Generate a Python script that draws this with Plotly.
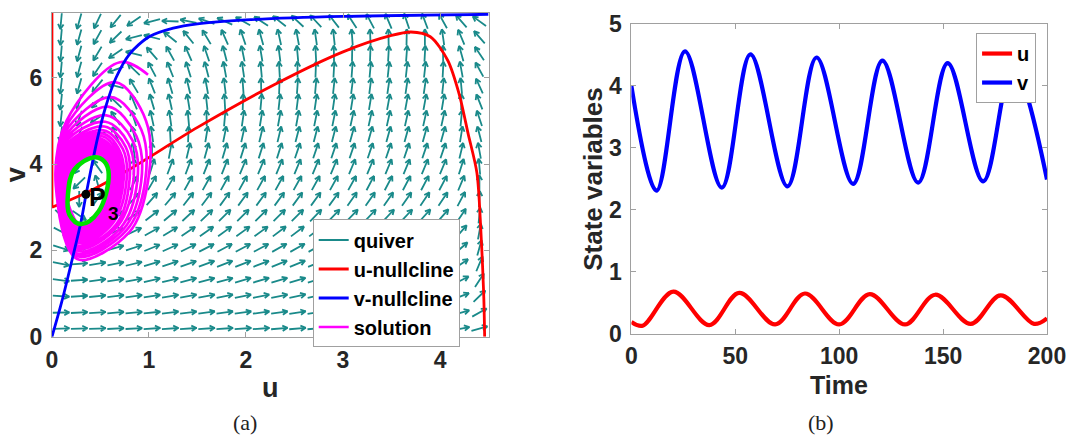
import numpy as np
import plotly.graph_objects as go

# picture geometry: the capture maps figure pixels p to picture pixels t = S*p + O
SX, OX = 0.978, 6.0
SY, OY = 0.94, 12.0
FW, FH = 1090, 450
FONT = "Liberation Sans, Arial, sans-serif"

def fx(t):
    return (t - OX) / SX

def fy(t):
    return (t - OY) / SY

def PX(t):
    return min(1.0, max(0.0, fx(t) / FW))

def PY(t):
    return min(1.0, max(0.0, 1 - fy(t) / FH))

# ---------------- Panel (a): phase plane ----------------
u_null_vert_u = [0.0, 0.0]
u_null_vert_v = [7.5, 3.0]
u_null_u = [0.0, 0.35, 0.77, 1.5, 2.3, 3.0, 3.5, 3.7, 3.9, 4.08, 4.2, 4.29, 4.38, 4.42, 4.45, 4.46]
u_null_v = [3.0, 3.33, 3.84, 4.85, 5.85, 6.6, 6.98, 7.06, 6.95, 6.4, 5.6, 4.7, 3.8, 2.5, 1.0, 0.0]

v_null_u = [0.0, 0.1, 0.22, 0.30, 0.35, 0.40, 0.47, 0.55, 0.66, 0.80, 1.0, 1.25, 1.5, 2.0, 3.0, 4.5]
v_null_v = [0.0, 0.8, 1.9, 2.67, 3.28, 3.85, 4.6, 5.3, 6.0, 6.55, 6.95, 7.15, 7.25, 7.34, 7.42, 7.47]

p3_u = [0.35]
p3_v = [3.3]

sol_start_u = [0.99]
sol_start_v = [6.07]
loop_top_u = [0.70, 0.65, 0.61, 0.58, 0.56, 0.55, 0.54, 0.53, 0.52, 0.51, 0.50, 0.49, 0.48, 0.47, 0.47, 0.46, 0.45, 0.45]
loop_top_v = [6.36, 5.90, 5.55, 5.33, 5.13, 4.98, 4.87, 4.78, 4.71, 4.65, 4.59, 4.54, 4.49, 4.45, 4.41, 4.36, 4.30, 4.24]
loop_ul_u = [0.15, 0.14, 0.13, 0.13, 0.13, 0.13, 0.14, 0.14, 0.15, 0.15, 0.16, 0.17, 0.18, 0.19, 0.20, 0.21, 0.22, 0.22]
loop_ul_v = [5.00, 4.85, 4.72, 4.62, 4.55, 4.48, 4.42, 4.37, 4.32, 4.28, 4.24, 4.20, 4.16, 4.12, 4.08, 4.02, 3.96, 3.92]
loop_l_u = [0.04, 0.04, 0.04, 0.045, 0.05, 0.05, 0.06, 0.065, 0.07, 0.08, 0.085, 0.09, 0.10, 0.11, 0.12, 0.13, 0.14, 0.15]
loop_l_v = [3.60, 3.55, 3.50, 3.47, 3.45, 3.42, 3.40, 3.38, 3.37, 3.36, 3.35, 3.34, 3.33, 3.32, 3.32, 3.31, 3.31, 3.30]
loop_b_u = [0.26, 0.26, 0.26, 0.27, 0.27, 0.27, 0.28, 0.28, 0.28, 0.28, 0.29, 0.29, 0.29, 0.29, 0.29, 0.30, 0.30, 0.30]
loop_b_v = [1.80, 1.87, 1.93, 1.99, 2.05, 2.11, 2.17, 2.22, 2.27, 2.31, 2.35, 2.39, 2.42, 2.45, 2.48, 2.51, 2.54, 2.57]
loop_lr_u = [0.80, 0.77, 0.74, 0.71, 0.68, 0.66, 0.63, 0.61, 0.59, 0.57, 0.56, 0.54, 0.53, 0.52, 0.51, 0.50, 0.49, 0.485]
loop_lr_v = [2.43, 2.47, 2.50, 2.53, 2.57, 2.60, 2.64, 2.67, 2.70, 2.73, 2.75, 2.77, 2.79, 2.81, 2.83, 2.85, 2.87, 2.88]
loop_r_u = [0.99, 0.96, 0.92, 0.88, 0.84, 0.80, 0.77, 0.74, 0.72, 0.70, 0.68, 0.66, 0.65, 0.63, 0.62, 0.61, 0.60, 0.59]
loop_r_v = [3.60, 3.60, 3.60, 3.62, 3.63, 3.64, 3.65, 3.66, 3.67, 3.68, 3.69, 3.70, 3.71, 3.72, 3.73, 3.74, 3.75, 3.76]
loop_ur_u = [0.97, 0.92, 0.87, 0.83, 0.79, 0.76, 0.73, 0.70, 0.68, 0.66, 0.64, 0.62, 0.61, 0.60, 0.58, 0.57, 0.56, 0.55]
loop_ur_v = [5.00, 4.80, 4.65, 4.55, 4.47, 4.40, 4.35, 4.30, 4.26, 4.22, 4.19, 4.16, 4.13, 4.11, 4.10, 4.09, 4.08, 4.07]

cycle_u = [0.44, 0.23, 0.165, 0.18, 0.30, 0.48, 0.585, 0.54, 0.44]
cycle_v = [4.16, 3.87, 3.30, 2.83, 2.61, 2.90, 3.77, 4.06, 4.16]

quiver_u = [0.094, 0.281, 0.469, 0.656, 0.844, 1.031, 1.219, 1.406, 1.594, 1.781, 1.969, 2.156,
            2.344, 2.531, 2.719, 2.906, 3.094, 3.281, 3.469, 3.656, 3.844, 4.031, 4.219, 4.406]
quiver_v = [0.19, 0.56, 0.94, 1.31, 1.69, 2.06, 2.44, 2.81, 3.19, 3.56, 3.94, 4.31,
            4.69, 5.06, 5.44, 5.81, 6.19, 6.56, 6.94, 7.31]
quiver_angle = [
    [2, 2, 2, 3, 3, 4, 4, 4, 4, 4, 4, 4, 5, 5, 5, 6, 6, 7, 7, 8, 8, 9, 11, 16],
    [1, 3, 4, 5, 5, 6, 7, 7, 8, 8, 8, 8, 8, 9, 9, 10, 10, 11, 11, 12, 12, 13, 16, 30],
    [-4, 4, 6, 7, 8, 9, 10, 11, 11, 12, 12, 12, 12, 13, 13, 14, 14, 15, 15, 16, 17, 18, 22, 45],
    [-8, 4, 8, 9, 11, 13, 14, 15, 16, 16, 17, 17, 17, 17, 18, 18, 19, 19, 20, 20, 21, 23, 28, 58],
    [-12, 4, 10, 12, 14, 17, 19, 20, 21, 22, 22, 22, 23, 23, 23, 24, 24, 25, 25, 26, 27, 29, 35, 68],
    [-18, 3, 13, 16, 19, 23, 25, 27, 28, 29, 29, 29, 30, 30, 30, 31, 31, 32, 32, 33, 33, 35, 42, 75],
    [-28, -5, 17, 22, 26, 30, 32, 35, 36, 37, 37, 37, 38, 38, 38, 39, 39, 40, 40, 40, 41, 42, 50, 80],
    [-45, -35, 22, 31, 35, 39, 41, 44, 45, 46, 46, 46, 46, 46, 47, 47, 47, 48, 48, 48, 49, 50, 57, 84],
    [-85, -90, 55, 45, 47, 50, 51, 53, 54, 55, 55, 55, 55, 55, 55, 55, 56, 56, 56, 56, 57, 57, 63, 87],
    [262, 225, 105, 72, 62, 61, 61, 62, 62, 62, 62, 62, 62, 62, 62, 62, 62, 63, 63, 63, 63, 63, 68, 90],
    [262, 235, 125, 98, 88, 73, 70, 70, 69, 69, 68, 68, 68, 68, 68, 68, 68, 68, 68, 68, 68, 68, 73, 95],
    [263, 245, 150, 106, 98, 90, 80, 77, 75, 74, 73, 73, 73, 72, 72, 72, 72, 72, 72, 72, 72, 72, 77, 100],
    [263, 250, 195, 112, 103, 98, 93, 88, 81, 79, 78, 77, 77, 76, 76, 76, 75, 75, 75, 75, 75, 75, 81, 104],
    [264, 252, 215, 122, 107, 102, 98, 95, 91, 85, 82, 81, 80, 80, 79, 79, 78, 78, 78, 78, 78, 78, 85, 108],
    [264, 254, 225, 135, 112, 106, 102, 99, 96, 93, 88, 85, 84, 83, 82, 82, 81, 81, 80, 80, 80, 81, 89, 111],
    [264, 255, 232, 165, 120, 111, 106, 103, 100, 97, 94, 91, 88, 86, 85, 84, 83, 83, 82, 82, 82, 84, 95, 114],
    [265, 255, 237, 200, 135, 117, 111, 107, 104, 100, 98, 95, 93, 90, 88, 87, 86, 85, 84, 84, 84, 87, 100, 118],
    [265, 255, 240, 215, 165, 130, 118, 113, 108, 104, 101, 99, 97, 95, 93, 91, 89, 88, 87, 86, 87, 91, 105, 123],
    [265, 255, 242, 225, 195, 165, 140, 128, 120, 113, 108, 105, 102, 100, 98, 96, 94, 92, 91, 89, 90, 98, 112, 130],
    [265, 255, 245, 232, 215, 195, 178, 168, 160, 155, 150, 146, 141, 136, 132, 127, 122, 117, 112, 108, 110, 118, 130, 143],
]

# ---------------- Panel (b): time series (extrema) ----------------
u_time = [0, 5.4, 20.2, 37.5, 51.9, 69.2, 83.5, 100.0, 114.7, 131.7, 146.2, 163.3, 177.7, 193.8, 200]
u_vals = [0.19, 0.13, 0.68, 0.14, 0.66, 0.15, 0.65, 0.15, 0.64, 0.15, 0.63, 0.16, 0.62, 0.16, 0.25]
v_time = [0, 12.1, 25.8, 43.5, 57.3, 75.1, 89.1, 106.7, 120.8, 138.0, 152.2, 169.3, 183.5, 200]
v_vals = [4.0, 2.31, 4.56, 2.36, 4.51, 2.38, 4.46, 2.42, 4.41, 2.44, 4.37, 2.46, 4.33, 2.49]

# ---------------- layout geometry (reference picture pixels) ----------------
A_L, A_R, A_T, A_B = 52, 489, 12, 335
B_L, B_R, B_T, B_B = 632, 1048, 23, 332
A_XR, A_YR = [0, 4.5], [0, 7.5]
B_XR, B_YR = [0, 200], [0, 5]
pxu = (fx(A_R) - fx(A_L)) / (A_XR[1] - A_XR[0])
pxv = (fy(A_B) - fy(A_T)) / (A_YR[1] - A_YR[0])

fig = go.Figure()

L, HL, HA = 17.0, 6.0, np.deg2rad(28)
qx, qy = [], []
for j, vv in enumerate(quiver_v):
    for i, uu in enumerate(quiver_u):
        a = np.deg2rad(quiver_angle[j][i])
        dx, dy = np.cos(a), np.sin(a)
        x0, y0 = uu - 0.5 * L * dx / pxu, vv - 0.5 * L * dy / pxv
        x1, y1 = uu + 0.5 * L * dx / pxu, vv + 0.5 * L * dy / pxv
        b1, b2 = a + np.pi + HA, a + np.pi - HA
        qx += [x0, x1, x1 + HL * np.cos(b1) / pxu, None, x1, x1 + HL * np.cos(b2) / pxu, None]
        qy += [y0, y1, y1 + HL * np.sin(b1) / pxv, None, y1, y1 + HL * np.sin(b2) / pxv, None]

TEAL = "#1a8a8a"
fig.add_trace(go.Scatter(x=qx, y=qy, mode="lines", line=dict(color=TEAL, width=1.8),
                         name="quiver", legendrank=1, hoverinfo="skip"))
fig.add_trace(go.Scatter(x=u_null_vert_u, y=u_null_vert_v, mode="lines", line=dict(color="#ff0000", width=2.8),
                         showlegend=False, legendgroup="un", hoverinfo="skip"))
fig.add_trace(go.Scatter(x=u_null_u, y=u_null_v, mode="lines", line=dict(color="#ff0000", width=2.8, shape="spline", smoothing=0.8),
                         name="u-nullcline", legendgroup="un", legendrank=2, hoverinfo="skip"))

sx, sy = list(sol_start_u), list(sol_start_v)
for k in range(len(loop_top_u)):
    sx += [loop_top_u[k], loop_ul_u[k], loop_l_u[k], loop_b_u[k], loop_lr_u[k], loop_r_u[k], loop_ur_u[k]]
    sy += [loop_top_v[k], loop_ul_v[k], loop_l_v[k], loop_b_v[k], loop_lr_v[k], loop_r_v[k], loop_ur_v[k]]
sx += cycle_u
sy += cycle_v
fig.add_trace(go.Scatter(x=sx, y=sy, mode="lines", line=dict(color="#ff00ff", width=2.7, shape="spline", smoothing=1.0),
                         name="solution", legendrank=4, hoverinfo="skip"))
fig.add_trace(go.Scatter(x=v_null_u, y=v_null_v, mode="lines", line=dict(color="#0000ff", width=2.8, shape="spline", smoothing=0.8),
                         name="v-nullcline", legendrank=3, hoverinfo="skip"))
fig.add_trace(go.Scatter(x=cycle_u, y=cycle_v, mode="lines", line=dict(color="#00e000", width=4.5, shape="spline", smoothing=1.1),
                         showlegend=False, hoverinfo="skip"))
fig.add_trace(go.Scatter(x=p3_u, y=p3_v, mode="markers", marker=dict(color="black", size=9),
                         showlegend=False, hoverinfo="skip"))

fig.add_trace(go.Scatter(x=u_time, y=u_vals, mode="lines", line=dict(color="#ff0000", width=4.2, shape="spline", smoothing=1.0),
                         name="u", xaxis="x2", yaxis="y2", legend="legend2", hoverinfo="skip"))
fig.add_trace(go.Scatter(x=v_time, y=v_vals, mode="lines", line=dict(color="#0000ff", width=4.2, shape="spline", smoothing=1.0),
                         name="v", xaxis="x2", yaxis="y2", legend="legend2", hoverinfo="skip"))

AX = "#a0a0a0"
TICKF = dict(family=FONT, size=23, color="#262626", weight="bold")
common = dict(showgrid=False, zeroline=False, showline=True, linecolor=AX, linewidth=1, mirror="ticks",
              ticks="inside", ticklen=5, tickcolor=AX, tickfont=TICKF, ticklabeloverflow="allow")

fig.update_layout(
    width=FW, height=FH, margin=dict(l=0, r=0, t=0, b=0),
    paper_bgcolor="white", plot_bgcolor="white",
    xaxis=dict(domain=[PX(A_L), PX(A_R)], range=A_XR, tickvals=[0, 1, 2, 3, 4], anchor="y", ticklabelstandoff=3, **common),
    yaxis=dict(domain=[PY(A_B), PY(A_T)], range=A_YR, tickvals=[0, 2, 4, 6], anchor="x", ticklabelstandoff=4, **common),
    xaxis2=dict(domain=[PX(B_L), PX(B_R)], range=B_XR, tickvals=[0, 50, 100, 150, 200], anchor="y2", ticklabelstandoff=2, **common),
    yaxis2=dict(domain=[PY(B_B), PY(B_T)], range=B_YR, tickvals=[0, 1, 2, 3, 4, 5], anchor="x2", ticklabelstandoff=4, **common),
    legend=dict(x=PX(313), y=PY(218), xanchor="left", yanchor="top", bgcolor="white",
                bordercolor=AX, borderwidth=1, font=dict(family=FONT, size=20, color="black", weight="bold"),
                tracegroupgap=0),
    legend2=dict(x=PX(977), y=PY(32), xanchor="left", yanchor="top", bgcolor="white",
                 bordercolor=AX, borderwidth=1, font=dict(family=FONT, size=20, color="black", weight="bold")),
    showlegend=True,
)

def label(text, x, y, size, angle=0, family=FONT, weight="bold", color="#262626"):
    return dict(text=text, x=PX(x), y=PY(y), xref="paper", yref="paper", showarrow=False,
                xanchor="center", yanchor="middle", textangle=angle,
                font=dict(family=family, size=size, color=color, weight=weight))

ann = [
    label("u", (A_L + A_R) / 2, 386, 27),
    label("v", 16, 173, 27, angle=-90),
    label("Time", (B_L + B_R) / 2, 383, 25),
    label("State variables", 594, 177, 26, angle=-90),
    label("(a)", 245, 421, 22, family="Liberation Serif, DejaVu Serif, serif", weight="normal", color="#222222"),
    label("(b)", 822, 421, 22, family="Liberation Serif, DejaVu Serif, serif", weight="normal", color="#222222"),
]
ann.append(dict(text="P", x=p3_u[0], y=p3_v[0], xref="x", yref="y", showarrow=False, xshift=12, yshift=-3,
                xanchor="center", yanchor="middle", font=dict(family=FONT, size=25, color="black", weight="bold")))
ann.append(dict(text="3", x=p3_u[0], y=p3_v[0], xref="x", yref="y", showarrow=False, xshift=28, yshift=-19,
                xanchor="center", yanchor="middle", font=dict(family=FONT, size=19, color="black", weight="bold")))
fig.update_layout(annotations=ann)

fig.write_html("out.html")
